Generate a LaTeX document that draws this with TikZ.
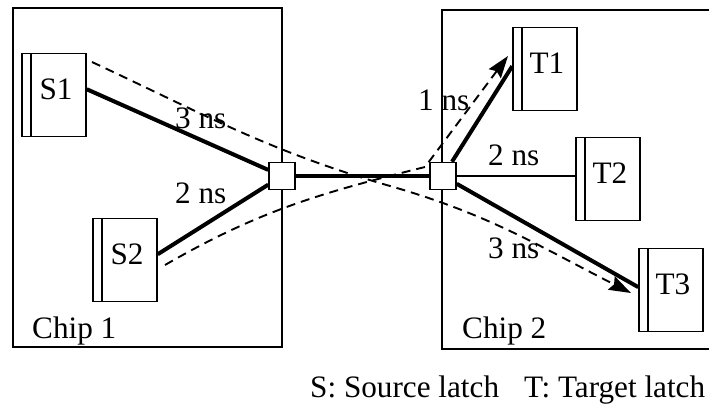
\documentclass[tikz,border=0pt]{standalone}
\usepackage{fontspec}
\setmainfont{Liberation Serif}
\usetikzlibrary{arrows.meta}
\tikzset{
  latch/.style={
    rectangle, draw, line width=1.5pt,
    minimum width=64pt, minimum height=83pt, inner sep=0pt,
    path picture={
      \draw[line width=1.5pt]
        ([xshift=9pt]path picture bounding box.north west) --
        ([xshift=9pt]path picture bounding box.south west);
    },
    label={[xshift=2pt, yshift=6pt]center:#1}
  },
  junction/.style={
    rectangle, draw, fill=white, line width=1.5pt,
    minimum width=26pt, minimum height=27pt, inner sep=0pt
  },
  chipline/.style={line width=1.5pt},
  wire/.style={line width=4pt},
  thinwire/.style={line width=1.4pt},
  flow/.style={dash pattern=on 9pt off 6pt, line width=1.9pt,
    -{Stealth[length=22pt, width=15pt, inset=3pt]}},
  nslabel/.style={anchor=base west, inner sep=0pt},
}
\begin{document}
\begin{tikzpicture}[x=1pt, y=-1pt,
    every node/.style={font=\fontsize{31.2}{36}\selectfont}]
  \useasboundingbox (0,0) rectangle (709,405);

  % chips
  \coordinate (c1nw) at (13,8);
  \coordinate (c1se) at (282,347);
  \draw[chipline] (c1nw) rectangle (c1se);
  \coordinate (c2ne) at (709,10);
  \coordinate (c2nw) at (442,10);
  \coordinate (c2sw) at (442,349);
  \coordinate (c2se) at (709,349);
  \draw[chipline] (c2ne) -- (c2nw) -- (c2sw) -- (c2se);
  \node[nslabel] (chip1) at (32,338) {Chip 1};
  \node[nslabel] (chip2) at (462,338) {Chip 2};

  % latches and junctions
  \node[latch=S1] (s1) at (54,95)  {};
  \node[latch=S2] (s2) at (125,260) {};
  \node[latch=T1] (t1) at (545,69)  {};
  \node[latch=T2] (t2) at (608,179) {};
  \node[latch=T3] (t3) at (671,290) {};
  \node[junction] (j1) at (282,176) {};
  \node[junction] (j2) at (443,176) {};

  % wires
  \draw[wire] (s1.10) -- (j1);
  \draw[wire] (s2.10) -- (j1);
  \draw[wire] (j1) -- (j2);
  \draw[wire] (j2) -- (t1.175);
  \draw[thinwire] (j2) -- (j2 -| t2.west);
  \draw[wire] (j2) -- (t3.175);

  % critical paths
  \coordinate (f1a) at (92,62);
  \coordinate (f1b) at (390,186);
  \coordinate (f1c) at (631,293);
  \draw[flow] (f1a) to[out=-25,in=164] (f1b) to[out=-16,in=153] (f1c);
  \coordinate (f2a) at (165,265);
  \coordinate (f2b) at (425,167);
  \coordinate (f2c) at (508,56);
  \draw[flow] (f2a) to[out=30,in=194] (f2b) -- (f2c);

  % delays
  \node[nslabel] (d13) at (175,128) {3 ns};
  \node[nslabel] (d12) at (175,203) {2 ns};
  \node[nslabel] (d21) at (418,110) {1 ns};
  \node[nslabel] (d22) at (488,165) {2 ns};
  \node[nslabel] (d23) at (488,258) {3 ns};

  \node[nslabel] (legend) at (310,397)
       {S: Source latch\hspace{0.8em}T: Target latch};
\end{tikzpicture}
\end{document}
